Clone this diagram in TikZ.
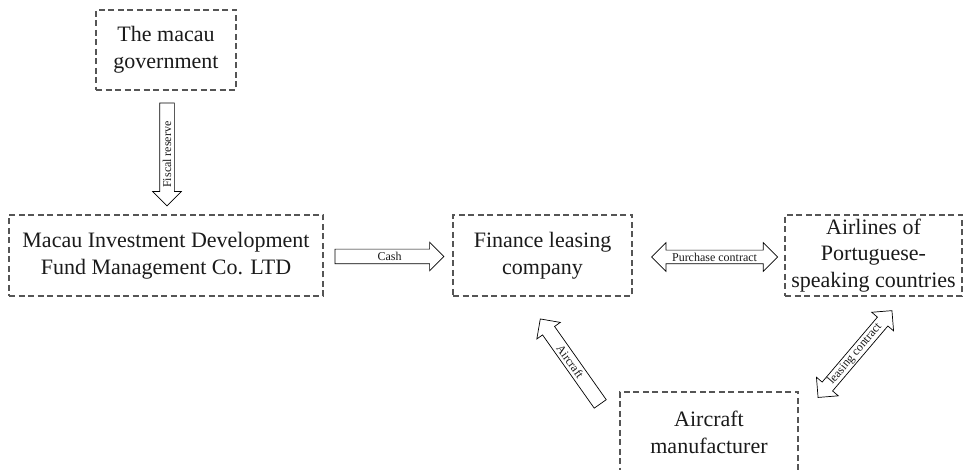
\documentclass[tikz,border=0pt]{standalone}
\usepackage{fontspec}
\setmainfont{Liberation Serif}
\usetikzlibrary{shapes.arrows,calc}
\definecolor{boxgray}{HTML}{555555}
\definecolor{ink}{HTML}{1A1A1A}
\tikzset{
  box/.style={draw=boxgray, line width=1.1pt, dash pattern=on 6pt off 3.5pt,
    align=center, inner sep=0pt, text=ink, font=\fontsize{22}{26.5}\selectfont},
  blockarrow/.style={single arrow, draw=black, line width=0.7pt, fill=white,
    inner sep=7pt, single arrow head extend=7pt, minimum width=28pt},
  dblarrow/.style={double arrow, draw=black, line width=0.7pt, fill=white,
    inner sep=6.5pt, double arrow head extend=7.5pt, minimum width=28pt},
  lbl/.style={font=\fontsize{12}{12}\selectfont, inner sep=0pt, text=ink}
}
\begin{document}
\begin{tikzpicture}[x=1pt,y=1pt]
\useasboundingbox (0,0) rectangle (963,470);
\clip (0,0) rectangle (963,470);
% boxes
\node[box, minimum width=140, minimum height=80] (gov) at (166,420) {The macau\\government};
\node[box, minimum width=314, minimum height=81] (midf) at (166,214.5) {Macau Investment Development\\Fund Management Co. LTD};
\node[box, minimum width=179, minimum height=81] (fin) at (542.5,214.5) {Finance leasing\\company};
\node[box, minimum width=177, minimum height=81] (air) at (873.5,214.5) {Airlines of\\Portuguese-\\speaking countries};
\node[box, minimum width=178, minimum height=81] (mfr) at (709,37.5) {Aircraft\\manufacturer};
% fiscal reserve arrow
\node[blockarrow, minimum height=103, rotate=270, anchor=tip] (fiscal) at ([xshift=1,yshift=8]midf.north) {};
\node[lbl, rotate=90] (fiscallbl) at ($(fiscal.tip)!0.5!(fiscal.tail)$) {Fiscal reserve};
% cash arrow
\node[blockarrow, minimum height=109, anchor=tip] (cash) at ([xshift=-8,yshift=-1]fin.west) {};
\node[lbl] (cashlbl) at ($(cash.tip)!0.5!(cash.tail)$) {Cash};
% purchase contract
\node[dblarrow, minimum height=126] (purchase) at ($(fin.east)+(82,-1.5)$) {};
\node[lbl] (purchaselbl) at (purchase.center) {Purchase contract};
% aircraft arrow
\node[blockarrow, minimum height=104, rotate=125.2, anchor=tip] (aircraft) at ($(fin.south)+(-2.5,-22)$) {};
\node[lbl, rotate=-54.8] (aircraftlbl) at ($(aircraft.tip)!0.5!(aircraft.tail)$) {Aircraft};
% leasing contract
\node[dblarrow, minimum height=114, rotate=49.6] (leasing) at ($(air.south)+(-18.5,-57.5)$) {};
\node[lbl, rotate=49.6] (leasinglbl) at (leasing.center) {leasing contract};
\end{tikzpicture}
\end{document}
